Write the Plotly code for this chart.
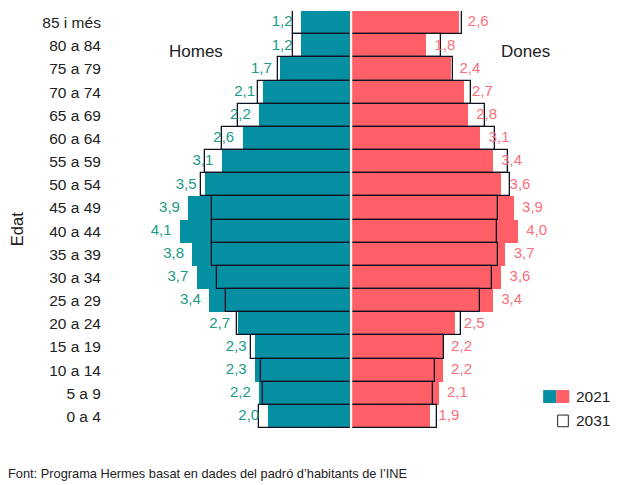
import plotly.graph_objects as go

# age groups, bottom to top
edats = ["0 a 4", "5 a 9", "10 a 14", "15 a 19", "20 a 24", "25 a 29", "30 a 34",
         "35 a 39", "40 a 44", "45 a 49", "50 a 54", "55 a 59", "60 a 64",
         "65 a 69", "70 a 74", "75 a 79", "80 a 84", "85 i més"]

# % of population
homes_2021 = [2.0, 2.2, 2.3, 2.3, 2.7, 3.4, 3.7, 3.8, 4.1, 3.9, 3.5, 3.1, 2.6, 2.2, 2.1, 1.7, 1.2, 1.2]
homes_2031 = [2.2, 2.1, 2.15, 2.4, 2.74, 3.0, 3.2, 3.33, 3.33, 3.33, 3.6, 3.5, 3.1, 2.7, 2.22, 1.75, 1.4, 1.4]
dones_2021 = [1.9, 2.1, 2.2, 2.2, 2.5, 3.4, 3.6, 3.7, 4.0, 3.9, 3.6, 3.4, 3.1, 2.8, 2.7, 2.4, 1.8, 2.6]
dones_2031 = [2.06, 1.96, 2.02, 2.22, 2.63, 3.09, 3.38, 3.52, 3.5, 3.52, 3.8, 3.76, 3.45, 3.2, 2.87, 2.44, 2.15, 2.67]

TEAL = "#048fa3"
SALMON = "#ff5f66"
TEAL_TXT = "#1a9a86"
SALMON_TXT = "#f7707c"
FONT = "Liberation Sans, Arial, sans-serif"
NB = "\u00a0"

def fmt(v):
    return f"{v:.1f}".replace(".", ",")

fig = go.Figure()

fig.add_trace(go.Bar(y=edats, x=[-v for v in homes_2021], orientation="h",
                     marker=dict(color=TEAL, line=dict(width=0)), showlegend=False, hoverinfo="skip"))
fig.add_trace(go.Bar(y=edats, x=dones_2021, orientation="h",
                     marker=dict(color=SALMON, line=dict(width=0)), showlegend=False, hoverinfo="skip"))
fig.add_trace(go.Bar(y=edats, x=[-v for v in homes_2031], orientation="h",
                     marker=dict(color="rgba(0,0,0,0)", line=dict(color="#111122", width=1.3)),
                     showlegend=False, hoverinfo="skip"))
fig.add_trace(go.Bar(y=edats, x=dones_2031, orientation="h",
                     marker=dict(color="rgba(0,0,0,0)", line=dict(color="#111122", width=1.3)),
                     showlegend=False, hoverinfo="skip"))

# value labels (2021)
fig.add_trace(go.Scatter(y=edats, x=[-v for v in homes_2021], mode="text",
                         text=[fmt(v) + NB * 2 for v in homes_2021], textposition="middle left",
                         textfont=dict(color=TEAL_TXT, size=15), showlegend=False, hoverinfo="skip",
                         cliponaxis=False))
fig.add_trace(go.Scatter(y=edats, x=dones_2021, mode="text",
                         text=[NB * 2 + fmt(v) for v in dones_2021], textposition="middle right",
                         textfont=dict(color=SALMON_TXT, size=15), showlegend=False, hoverinfo="skip",
                         cliponaxis=False))

# light gap in the middle
fig.add_shape(type="line", x0=0, x1=0, y0=0, y1=1, yref="paper",
              line=dict(color="#f2f2ec", width=2.5), layer="above")

# custom legend
fig.add_shape(type="rect", xref="paper", yref="paper", x0=0.897, x1=0.924, y0=0.060, y1=0.091,
              fillcolor=TEAL, line=dict(width=0))
fig.add_shape(type="rect", xref="paper", yref="paper", x0=0.924, x1=0.951, y0=0.060, y1=0.091,
              fillcolor=SALMON, line=dict(width=0))
fig.add_shape(type="rect", xref="paper", yref="paper", x0=0.927, x1=0.949, y0=0.003, y1=0.031,
              fillcolor="white", line=dict(color="#222222", width=1))

ann_font = dict(family=FONT, color="#222222")
fig.add_annotation(text="2021", xref="paper", yref="paper", x=0.960, y=0.075, xanchor="left",
                   yanchor="middle", showarrow=False, font=dict(size=15.5, **ann_font))
fig.add_annotation(text="2031", xref="paper", yref="paper", x=0.960, y=0.017, xanchor="left",
                   yanchor="middle", showarrow=False, font=dict(size=15.5, **ann_font))
fig.add_annotation(text="Homes", xref="paper", yref="paper", x=0.18, y=0.902, xanchor="center",
                   yanchor="middle", showarrow=False, font=dict(size=17, **ann_font))
fig.add_annotation(text="Dones", xref="paper", yref="paper", x=0.86, y=0.902, xanchor="center",
                   yanchor="middle", showarrow=False, font=dict(size=17, **ann_font))
fig.add_annotation(text="Edat", xref="paper", yref="paper", x=-0.19, y=0.477, textangle=-90,
                   xanchor="center", yanchor="middle", showarrow=False, font=dict(size=16.5, **ann_font))
fig.add_annotation(text="Font: Programa Hermes basat en dades del padró d’habitants de l’INE",
                   xref="paper", yref="paper", x=-0.212, y=-0.108, xanchor="left", yanchor="middle",
                   showarrow=False, font=dict(size=12.8, **ann_font))

fig.update_layout(
    width=617, height=485,
    margin=dict(l=109, r=24, t=11, b=57),
    barmode="overlay", bargap=0,
    plot_bgcolor="white", paper_bgcolor="white",
    font=dict(family=FONT, color="#222222"),
    xaxis=dict(range=[-5.8, 5.8], visible=False, fixedrange=True),
    yaxis=dict(categoryorder="array", categoryarray=edats, range=[-0.5, 17.5],
               showgrid=False, zeroline=False, showline=False, fixedrange=True,
               ticks="outside", ticklen=4, tickcolor="white",
               tickfont=dict(size=15.5, color="#222222")),
)

fig.write_html("out.html", config={"displayModeBar": False},
               post_script="document.body.style.margin='0';")
